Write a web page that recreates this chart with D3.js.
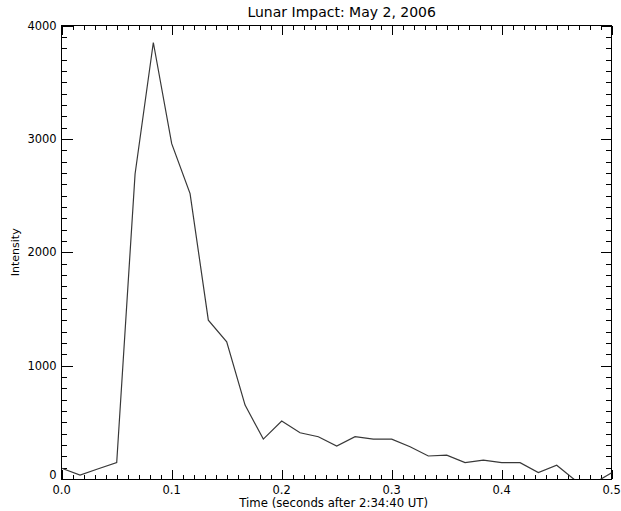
<!DOCTYPE html>
<html>
<head>
<meta charset="utf-8">
<script src="https://cdn.jsdelivr.net/npm/d3@7/dist/d3.min.js"></script>
<style>
  html, body { margin: 0; padding: 0; background: #fff; }
  svg { display: block; }
  text { font-family: "DejaVu Sans", sans-serif; fill: #000; }
</style>
</head>
<body>
<svg id="chart" width="621" height="511"></svg>
<script>
// Data
const times = [0.0, 0.0167, 0.0333, 0.05, 0.0667, 0.0833, 0.1, 0.1167, 0.1333, 0.15,
  0.1667, 0.1833, 0.2, 0.2167, 0.2333, 0.25, 0.2667, 0.2833, 0.3, 0.3167,
  0.3333, 0.35, 0.3667, 0.3833, 0.4, 0.4167, 0.4333, 0.45, 0.4667, 0.4833, 0.5];
const intensity = [95, 35, 90, 144, 2690, 3850, 2958, 2517, 1401, 1210,
  652, 352, 511, 408, 373, 291, 373, 352, 352, 285,
  203, 211, 144, 167, 144, 144, 56, 121, -10, -40, 55];
const xTicks = [0.0, 0.1, 0.2, 0.3, 0.4, 0.5];
const xTickLabels = ["0.0", "0.1", "0.2", "0.3", "0.4", "0.5"];
const yTicks = [0, 1000, 2000, 3000, 4000];
const yTickLabels = ["0", "1000", "2000", "3000", "4000"];
const titleText = "Lunar Impact: May 2, 2006";
const xLabel = "Time (seconds after 2:34:40 UT)";
const yLabel = "Intensity";

const svg = d3.select("#chart");
const L = 61.7, R = 611.7, T = 25.5, B = 479;
const x = d3.scaleLinear().domain([0, 0.5]).range([L, R]);
const y = d3.scaleLinear().domain([0, 4000]).range([B, T]);

const xMinor = d3.range(0, 51).map(i => i / 100);
const yMinor = d3.range(0, 41).map(i => i * 100);

const axisG = svg.append("g").attr("stroke", "#000").attr("stroke-width", 1).attr("shape-rendering", "crispEdges");
axisG.append("rect").attr("x", L).attr("y", T).attr("width", R - L).attr("height", B - T).attr("fill", "none");

const xMajLen = 9, xMinLen = 4.5, yMajLen = 11, yMinLen = 5.5;
const isMajorX = v => Math.abs(v * 10 - Math.round(v * 10)) < 1e-6;
const isMajorY = v => v % 1000 === 0;

xMinor.forEach(v => {
  const len = isMajorX(v) ? xMajLen : xMinLen;
  const px = Math.round(x(v)) + 0.5;
  axisG.append("line").attr("x1", px).attr("x2", px).attr("y1", B).attr("y2", B - len);
  axisG.append("line").attr("x1", px).attr("x2", px).attr("y1", T).attr("y2", T + len);
});
yMinor.forEach(v => {
  const len = isMajorY(v) ? yMajLen : yMinLen;
  const py = Math.round(y(v)) + 0.5;
  axisG.append("line").attr("x1", L).attr("x2", L + len).attr("y1", py).attr("y2", py);
  axisG.append("line").attr("x1", R).attr("x2", R - len).attr("y1", py).attr("y2", py);
});

// tick labels
svg.append("g").selectAll("text").data(xTicks).join("text")
  .attr("x", d => x(d)).attr("y", B + 15)
  .attr("text-anchor", "middle").attr("font-size", 11.5)
  .text((d, i) => xTickLabels[i]);
svg.append("g").selectAll("text").data(yTicks).join("text")
  .attr("x", L - 5).attr("y", d => d === 0 ? y(d) - 4 : y(d)).attr("dy", "0.36em")
  .attr("text-anchor", "end").attr("font-size", 11.5)
  .text((d, i) => yTickLabels[i]);

// line, clipped to plot window
svg.append("clipPath").attr("id", "clip").append("rect")
  .attr("x", L).attr("y", T).attr("width", R - L).attr("height", B - T);
const data = times.map((t, i) => [t, intensity[i]]);
svg.append("path").datum(data)
  .attr("clip-path", "url(#clip)")
  .attr("fill", "none").attr("stroke", "#383838").attr("stroke-width", 1.2)
  .attr("d", d3.line().x(d => x(d[0])).y(d => y(d[1])));

// title and axis labels
svg.append("text").attr("x", (L + R) / 2 + 5).attr("y", 17)
  .attr("text-anchor", "middle").attr("font-size", 14).text(titleText);
svg.append("text").attr("x", (L + R) / 2 - 3).attr("y", 507)
  .attr("text-anchor", "middle").attr("font-size", 11.7).text(xLabel);
svg.append("text").attr("transform", "translate(18.5," + ((T + B) / 2) + ") rotate(-90)")
  .attr("text-anchor", "middle").attr("font-size", 11).text(yLabel);
</script>
</body>
</html>
